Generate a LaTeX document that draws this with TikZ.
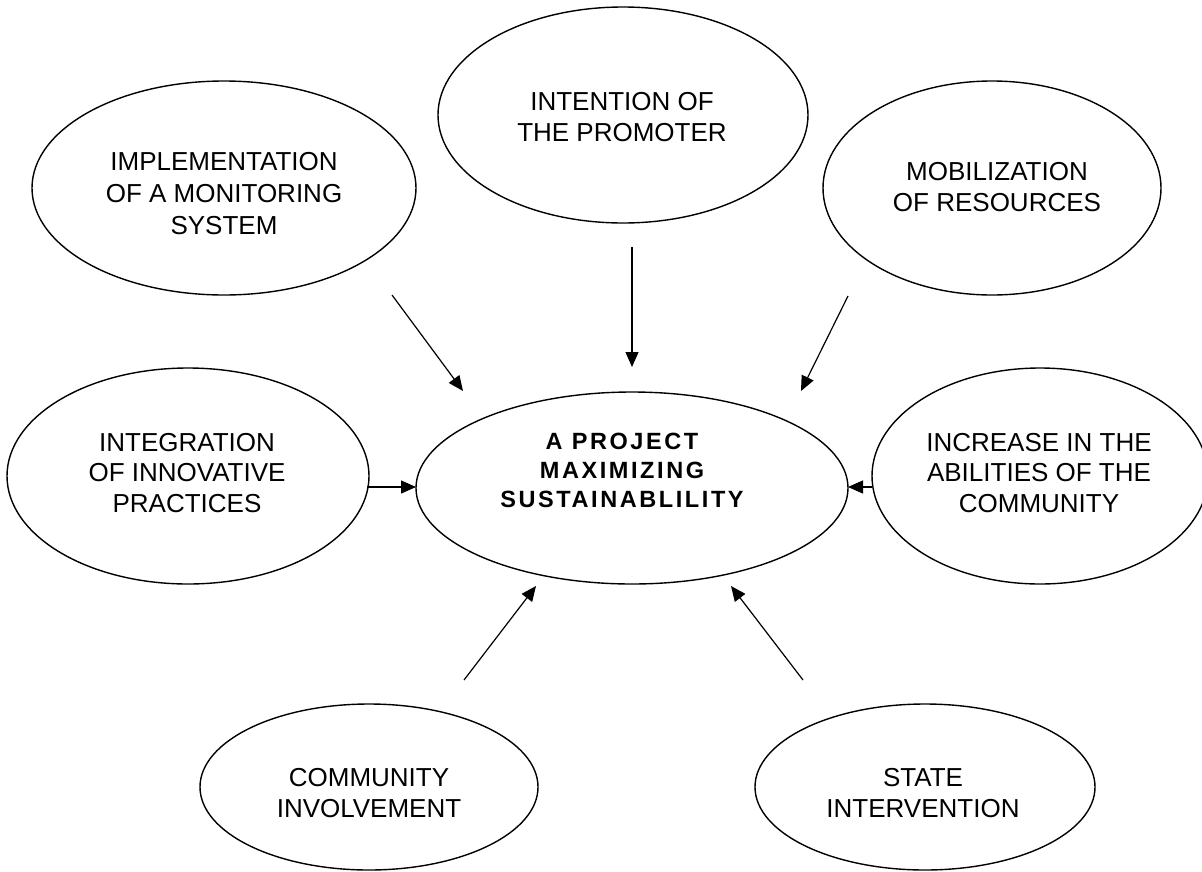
\documentclass[tikz,border=0pt]{standalone}
\usepackage{fontspec}
\setmainfont{Liberation Sans}
\newfontfamily\hubfont[LetterSpace=11]{Liberation Sans}
\usetikzlibrary{arrows.meta,shapes.geometric}
\begin{document}
\begin{tikzpicture}[x=1pt,y=-1pt,
  blob/.style={draw, line width=1.4pt, ellipse, inner sep=0pt},
  caption/.style={align=center, inner sep=0pt, font=\fontsize{26}{30.5}\selectfont},
  hubcaption/.style={align=center, inner sep=0pt, font=\hubfont\bfseries\fontsize{23.5}{29}\selectfont},
  feed/.style={line width=1.2pt, -{Triangle[length=15pt,width=13pt]}}
]
\useasboundingbox (0,0) rectangle (1202,871);
\fill[white] (0,0) rectangle (1202,871);

% ellipses
\node[blob, minimum width=384pt, minimum height=214pt] (impl)  at (224,188) {};
\node[blob, minimum width=370pt, minimum height=216pt] (promo) at (623,115) {};
\node[blob, minimum width=338pt, minimum height=214pt] (mobil) at (992,188) {};
\node[blob, minimum width=362pt, minimum height=216pt] (integ) at (188,476) {};
\node[blob, minimum width=432pt, minimum height=192pt] (hub)   at (632,488) {};
\node[blob, minimum width=336pt, minimum height=216pt] (incr)  at (1040,476) {};
\node[blob, minimum width=338pt, minimum height=166pt] (comm)  at (369,787) {};
\node[blob, minimum width=340pt, minimum height=166pt] (state) at (925,787) {};

% texts
\node[caption, font=\fontsize{26}{32}\selectfont] (implT) at (224,194) {IMPLEMENTATION\\OF A MONITORING\\SYSTEM};
\node[caption] (promoT) at (622,117) {INTENTION OF\\THE PROMOTER};
\node[caption] (mobilT) at (997,187) {MOBILIZATION\\OF RESOURCES};
\node[caption] (integT) at (187,473) {INTEGRATION\\OF INNOVATIVE\\PRACTICES};
\node[caption] (incrT)  at (1039,473) {INCREASE IN THE\\ABILITIES OF THE\\COMMUNITY};
\node[caption] (commT)  at (369,793) {COMMUNITY\\INVOLVEMENT};
\node[caption] (stateT) at (923,793) {STATE\\INTERVENTION};
\node[hubcaption] (hubT) at (622,470) {A PROJECT\\MAXIMIZING\\SUSTAINABLILITY};

% arrow ends
\coordinate (a1s) at (392,295); \coordinate (a1e) at (463,391);
\coordinate (a2s) at (632,247); \coordinate (a2e) at (632,367);
\coordinate (a3s) at (848,296); \coordinate (a3e) at (801,391);
\coordinate (a4s) at (367,487); \coordinate (a4e) at (416,487);
\coordinate (a5s) at (872,487); \coordinate (a5e) at (848,487);
\coordinate (a6s) at (464,680); \coordinate (a6e) at (536,586);
\coordinate (a7s) at (803,680); \coordinate (a7e) at (731,586);

\draw[feed] (a1s) -- (a1e);
\draw[feed] (a2s) -- (a2e);
\draw[feed] (a3s) -- (a3e);
\draw[feed] (a4s) -- (a4e);
\draw[feed] (a5s) -- (a5e);
\draw[feed] (a6s) -- (a6e);
\draw[feed] (a7s) -- (a7e);
\end{tikzpicture}
\end{document}
